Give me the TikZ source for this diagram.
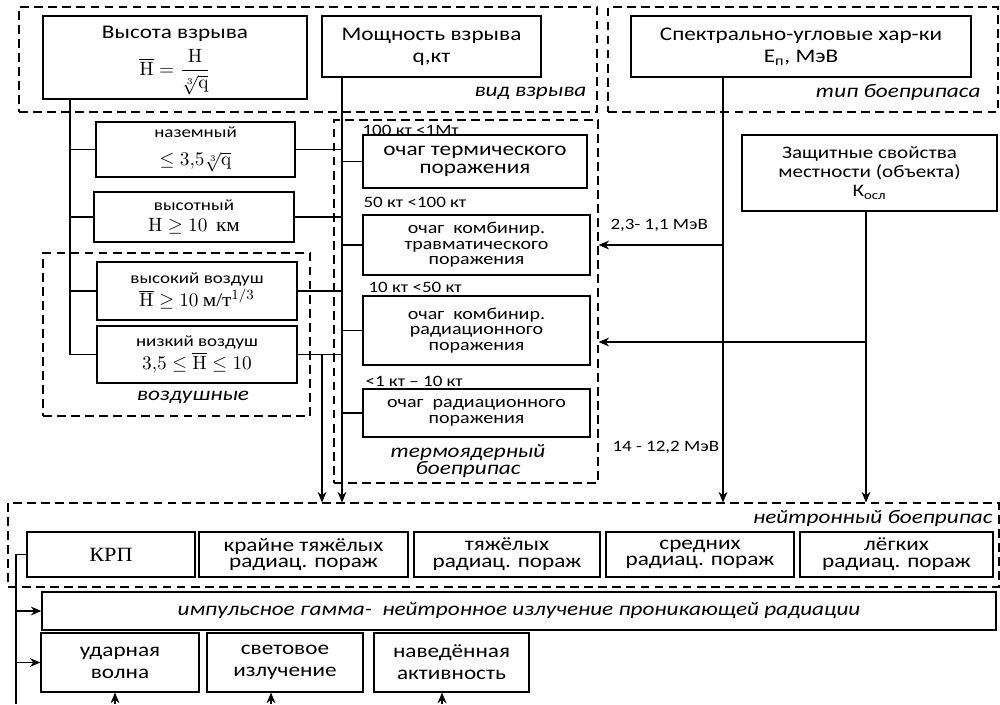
\documentclass[tikz,border=0pt]{standalone}
\usepackage{amsmath}
\usepackage[no-math]{fontspec}
\setmainfont{Carlito}[FakeStretch=1.2]
\newfontfamily\serif{Liberation Serif}[FakeStretch=1.1]
\newcommand\fml[1]{{\fontsize{11}{12}\selectfont$#1$}}
\usetikzlibrary{arrows.meta,positioning}

\begin{document}
\begin{tikzpicture}[x=0.02cm,y=-0.02cm,>={Stealth[length=6pt,width=5pt]},line width=0.7pt,
  blk/.style={draw, align=center, inner sep=0pt, font=\fontsize{11}{12.5}\selectfont},
  sml/.style={blk, font=\fontsize{9}{11}\selectfont},
  foc/.style={blk, font=\fontsize{9.5}{8.8}\selectfont},
  row/.style={blk, font=\fontsize{11}{9.5}\selectfont},
  grp/.style={draw, inner sep=0pt, line width=0.6pt, dash pattern=on 5pt off 3pt},
  tag/.style={inner sep=0pt, font=\fontsize{11}{12}\selectfont\itshape},
  lbl/.style={inner sep=0pt, anchor=west, font=\fontsize{9}{10}\selectfont},
  sz/.style 2 args={minimum width=#1*0.02cm, minimum height=#2*0.02cm}]
  \useasboundingbox (0,0) rectangle (1000,704);

  % dashed groups
  \node[grp,sz={578}{105}]  (kind)   at (308,59.5)   {};
  \node[grp,sz={390}{105}]  (type)   at (803,59.5)   {};
  \node[grp,sz={267}{163}]  (air)    at (176.5,334.5) {};
  \node[grp,sz={264}{363}]  (thermo) at (466,301.5)  {};
  \node[grp,sz={991}{84}]   (neu)    at (503.5,545)  {};

  % top row
  \node[blk,sz={264}{83}] (hgt)  at (175,57.5)  {};
  \node[inner sep=0pt,font=\fontsize{11}{12.5}\selectfont,below=6pt of hgt.north] (hgttxt) {Высота взрыва};
  \node[inner sep=0pt] (hgtfml) at (175,72) {\fml{\overline{\mathrm{H}}=\dfrac{\mathrm{H}}{\sqrt[3]{\mathrm{q}}}}};
  \node[blk,sz={219}{61}] (pwr)  at (431.5,46.5) {Мощность взрыва\\q,кт};
  \node[blk,sz={340}{61}] (spec) at (801,46.5)  {Спектрально-угловые хар-ки\\E\textsubscript{п}, МэВ};

  % kinds of burst
  \node[sml,sz={199}{55}] (gnd)   at (195.5,149.5) {наземный\\[5pt]\fml{\leq 3{,}5\sqrt[3]{\mathrm{q}}}};
  \node[sml,sz={200}{50}] (alt)   at (194,217)     {высотный\\[1pt]\fml{\mathrm{H}\geq 10}\ \ {\fontsize{11}{12}\serif км}};
  \node[sml,sz={200}{58}] (airhi) at (197,291)     {высокий воздуш\\[1pt]\fml{\overline{\mathrm{H}}\geq 10}\ {\fontsize{11}{12}\serif м/т}\fml{^{1/3}}};
  \node[sml,sz={200}{57}] (airlo) at (197,354.5)   {низкий воздуш\\[1pt]\fml{3{,}5\leq\overline{\mathrm{H}}\leq 10}};

  % lesion zones
  \node[blk,sz={224}{53},font=\fontsize{11}{10.5}\selectfont] (term) at (475,161.5) {очаг термического\\поражения};
  \node[foc,sz={227}{60}] (trav) at (476.5,245)   {очаг\ \ комбинир.\\травматического\\поражения};
  \node[foc,sz={227}{69}] (radc) at (476.5,330.5) {очаг\ \ комбинир.\\радиационного\\поражения};
  \node[foc,sz={227}{48}] (rad)  at (476.5,413)   {очаг\ \ радиационного\\поражения};

  \node[blk,sz={255}{76},font=\fontsize{10}{11}\selectfont] (prot) at (869.5,173) {Защитные свойства\\местности (объекта)\\К\textsubscript{осл}};

  % neutron munition row
  \node[row,sz={168}{45}] (krp)    at (111,554.5)   {\fontsize{11.5}{12}\serif КРП};
  \node[row,sz={209}{45}] (xheavy) at (303.5,554.5) {крайне тяжёлых\\радиац. пораж};
  \node[row,sz={186}{45}] (heavy)  at (507,554.5)   {тяжёлых\\радиац. пораж};
  \node[row,sz={188}{45}] (mid)    at (700,554.5)   {средних\\радиац. пораж};
  \node[row,sz={193}{45}] (light)  at (896.5,554.5) {лёгких\\радиац. пораж};

  \node[blk,sz={954}{38},font=\fontsize{11}{12}\selectfont\itshape] (pulse) at (519,611) {импульсное гамма-\ \ нейтронное излучение проникающей радиации};
  \node[blk,sz={158}{59}] (shock) at (120,662.5)   {ударная\\волна};
  \node[blk,sz={156}{59}] (flash) at (285,662.5)   {световое\\излучение};
  \node[blk,sz={155}{59}] (induc) at (451.5,662.5) {наведённая\\активность};

  % group captions
  \node[tag,anchor=east] at (587,93)  {вид взрыва};
  \node[tag,anchor=east] at (981,92)  {тип боеприпаса};
  \node[tag]             at (193,397) {воздушные};
  \node[tag,align=center,font=\fontsize{11}{9.6}\selectfont\itshape] at (468,461) {термоядерный\\боеприпас};
  \node[tag,anchor=east] at (993,518) {нейтронный боеприпас};

  % yields and energies
  \node[lbl] at (362,130) {100 кт <1Мт};
  \node[lbl] at (363,202) {50 кт <100 кт};
  \node[lbl] at (368,287) {10 кт <50 кт};
  \node[lbl] at (365,381) {<1 кт – 10 кт};
  \node[lbl] at (610,225) {2,3- 1,1 МэВ};
  \node[lbl] at (612,447) {14 - 12,2 МэВ};

  % connectors
  \coordinate (tx)  at (70,0);
  \coordinate (px)  at (342,0);
  \coordinate (ax)  at (322,0);
  \coordinate (sx)  at (723,0);
  \coordinate (kx)  at (866,0);
  \coordinate (gam) at (866,342);
  \coordinate (lx)  at (16,704);
  \coordinate (in1) at (115,704);
  \coordinate (in2) at (271,704);
  \coordinate (in3) at (442,704);

  \draw (hgt.south -| tx) -- (airlo.west -| tx);
  \foreach \b in {gnd,alt,airhi,airlo}
    \draw (\b.west -| tx) -- (\b.west) (\b.east) -- (\b.east -| px);
  \foreach \b in {term,trav,radc,rad}
    \draw (\b.west -| px) -- (\b.west);
  \draw[->] (pwr.south -| px) -- (neu.north -| px);
  \draw[->] (airlo.east -| ax) -- (neu.north -| ax);
  \draw[->] (spec.south -| sx) -- (neu.north -| sx);
  \draw[->] (prot.south -| kx) -- (neu.north -| kx);
  \draw[->] (trav.east -| sx) -- (trav.east -| thermo.east);
  \draw[->] (gam) -- (gam -| thermo.east);

  \draw (krp.west) -- (krp.west -| lx) -- (lx);
  \draw[->] (pulse.west -| lx) -- (pulse.west);
  \draw[->] (shock.west -| lx) -- (shock.west);
  \draw[->] (in1) -- (in1 |- shock.south);
  \draw[->] (in2) -- (in2 |- flash.south);
  \draw[->] (in3) -- (in3 |- induc.south);
\end{tikzpicture}
\end{document}
